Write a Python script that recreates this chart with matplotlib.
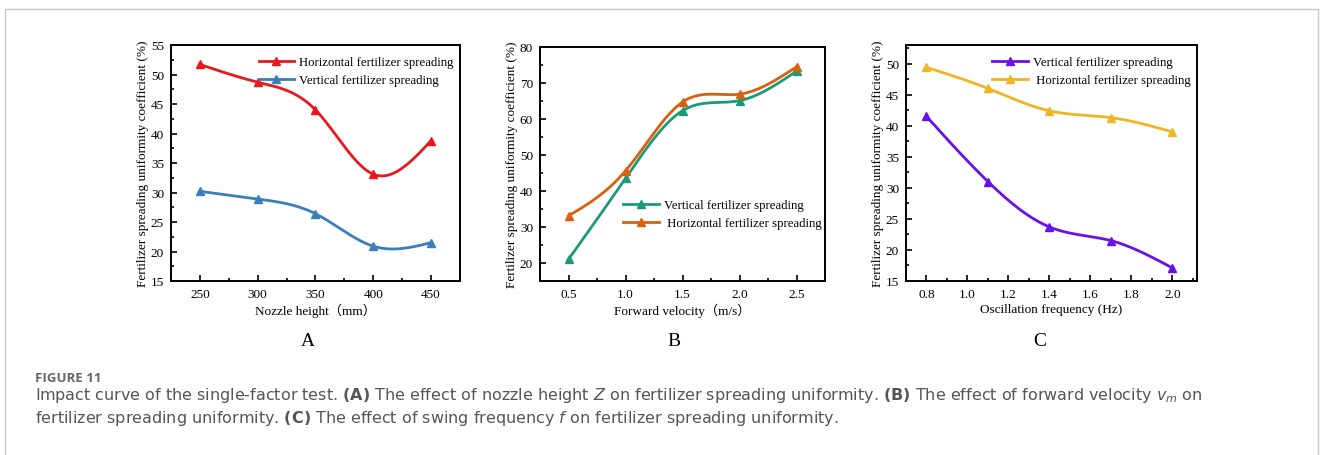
import matplotlib.pyplot as plt
import numpy as np
from matplotlib.ticker import AutoMinorLocator
from matplotlib.patches import Rectangle

# Data
height = [250, 300, 350, 400, 450]
height_horiz = [51.7, 48.7, 44.0, 33.1, 38.8]
height_vert = [30.2, 28.9, 26.4, 20.9, 21.5]

velocity = [0.5, 1.0, 1.5, 2.0, 2.5]
velocity_vert = [21.0, 43.5, 62.3, 65.1, 73.3]
velocity_horiz = [33.1, 45.6, 64.7, 66.9, 74.5]

freq = [0.8, 1.1, 1.4, 1.7, 2.0]
freq_vert = [41.5, 31.0, 23.7, 21.5, 17.1]
freq_horiz = [49.4, 46.0, 42.4, 41.3, 39.0]


def smooth(x, y, n=200):
    # natural cubic spline through the points (for drawing the curve only)
    x = np.asarray(x, float)
    y = np.asarray(y, float)
    k = len(x)
    h = np.diff(x)
    A = np.zeros((k, k))
    b = np.zeros(k)
    A[0, 0] = A[-1, -1] = 1
    for i in range(1, k - 1):
        A[i, i - 1] = h[i - 1]
        A[i, i] = 2 * (h[i - 1] + h[i])
        A[i, i + 1] = h[i]
        b[i] = 6 * ((y[i + 1] - y[i]) / h[i] - (y[i] - y[i - 1]) / h[i - 1])
    m = np.linalg.solve(A, b)
    xs = np.linspace(x[0], x[-1], n)
    idx = np.clip(np.searchsorted(x, xs) - 1, 0, k - 2)
    x0, x1 = x[idx], x[idx + 1]
    hh = x1 - x0
    t0, t1 = x1 - xs, xs - x0
    ys = (m[idx] * t0 ** 3 + m[idx + 1] * t1 ** 3) / (6 * hh) \
        + (y[idx] / hh - m[idx] * hh / 6) * t0 \
        + (y[idx + 1] / hh - m[idx + 1] * hh / 6) * t1
    return xs, ys


plt.rcParams['font.family'] = ['Liberation Serif', 'Noto Sans CJK SC', 'DejaVu Serif']
plt.rcParams['font.size'] = 9.5

fig = plt.figure(figsize=(13.28, 4.56), dpi=100)
W, H = 1328, 456

# outer frame
fig.patches.append(Rectangle((5 / W, -0.01), 1313 / W, 1 - 10 / H + 0.01,
                             transform=fig.transFigure, fill=False,
                             edgecolor='#c8c8c8', linewidth=1))


def make_ax(left, right, top, bottom):
    return fig.add_axes([left / W, 1 - bottom / H, (right - left) / W, (bottom - top) / H])


panels = [
    dict(box=(171, 460, 46, 282), x=height,
         series=[(height_horiz, '#e8191c', 'Horizontal fertilizer spreading'),
                 (height_vert, '#3a7ebb', 'Vertical fertilizer spreading')],
         xlim=(225, 475), ylim=(15, 55), xticks=[250, 300, 350, 400, 450],
         yticks=np.arange(15, 56, 5), xlabel='Nozzle height\uff08mm\uff09',
         xfmt='{:.0f}', legend=dict(loc='upper right', bbox_to_anchor=(1.01, 0.99)),
         tag='A', tagx=308),
    dict(box=(540, 825, 48, 282), x=velocity,
         series=[(velocity_vert, '#1b9a79', 'Vertical fertilizer spreading'),
                 (velocity_horiz, '#d9600f', ' Horizontal fertilizer spreading')],
         xlim=(0.25, 2.75), ylim=(15, 80), xticks=velocity,
         yticks=np.arange(20, 81, 10), xlabel='Forward velocity\uff08m/s\uff09',
         xfmt='{:.1f}', legend=dict(loc='center right', bbox_to_anchor=(1.02, 0.285)),
         tag='B', tagx=674),
    dict(box=(906, 1197, 46, 282), x=freq,
         series=[(freq_vert, '#6a10ea', 'Vertical fertilizer spreading'),
                 (freq_horiz, '#efb523', ' Horizontal fertilizer spreading')],
         xlim=(0.7, 2.12), ylim=(15, 53), xticks=[0.8, 1.0, 1.2, 1.4, 1.6, 1.8, 2.0],
         yticks=np.arange(15, 51, 5), xlabel='Oscillation frequency (Hz)',
         xfmt='{:.1f}', legend=dict(loc='upper right', bbox_to_anchor=(1.01, 0.99)),
         tag='C', tagx=1040),
]

for p in panels:
    ax = make_ax(*p['box'])
    for vals, color, label in p['series']:
        xs, ys = smooth(p['x'], vals)
        ax.plot(xs, ys, color=color, linewidth=2)
        ax.plot(p['x'], vals, linestyle='none', marker='^', markersize=6, color=color)
        ax.plot([], [], color=color, linewidth=2, marker='^', markersize=6, label=label)
    ax.set_xlim(*p['xlim'])
    ax.set_ylim(*p['ylim'])
    ax.set_xticks(p['xticks'])
    ax.set_xticklabels([p['xfmt'].format(v) for v in p['xticks']])
    ax.set_yticks(p['yticks'])
    ax.xaxis.set_minor_locator(AutoMinorLocator(2))
    ax.yaxis.set_minor_locator(AutoMinorLocator(2))
    ax.tick_params(which='both', direction='in', top=False, right=False, width=1.2)
    ax.tick_params(which='major', length=4, labelsize=9.5, pad=5)
    ax.tick_params(which='minor', length=2)
    for s in ax.spines.values():
        s.set_linewidth(1.4)
    ax.set_xlabel(p['xlabel'], fontsize=9.5, labelpad=2)
    ax.set_ylabel('Fertilizer spreading uniformity coefficient (%)', fontsize=9.5, labelpad=1)
    ax.legend(frameon=False, fontsize=9.2, handlelength=2.8, handletextpad=0.4,
              labelspacing=0.45, borderaxespad=0.3, **p['legend'])
    fig.text(p['tagx'] / W, 1 - 342 / H, p['tag'], fontsize=14, ha='center', va='center')

cap = ['DejaVu Sans']
fig.text(35 / W, 1 - 379 / H, 'FIGURE 11', family=['Open Sans', 'DejaVu Sans'], fontsize=9.5,
         fontweight='bold', color='#666666', va='center')
fig.text(35 / W, 1 - 396 / H,
         r'Impact curve of the single-factor test. $\bf{(A)}$ The effect of nozzle height $\it{Z}$ on fertilizer '
         r'spreading uniformity. $\bf{(B)}$ The effect of forward velocity $\it{v_m}$ on',
         family=cap, fontsize=11.5, color='#555555', va='center')
fig.text(35 / W, 1 - 419 / H,
         r'fertilizer spreading uniformity. $\bf{(C)}$ The effect of swing frequency $\it{f}$ on fertilizer '
         r'spreading uniformity.',
         family=cap, fontsize=11.5, color='#555555', va='center')

plt.savefig('out.png', dpi=100)
